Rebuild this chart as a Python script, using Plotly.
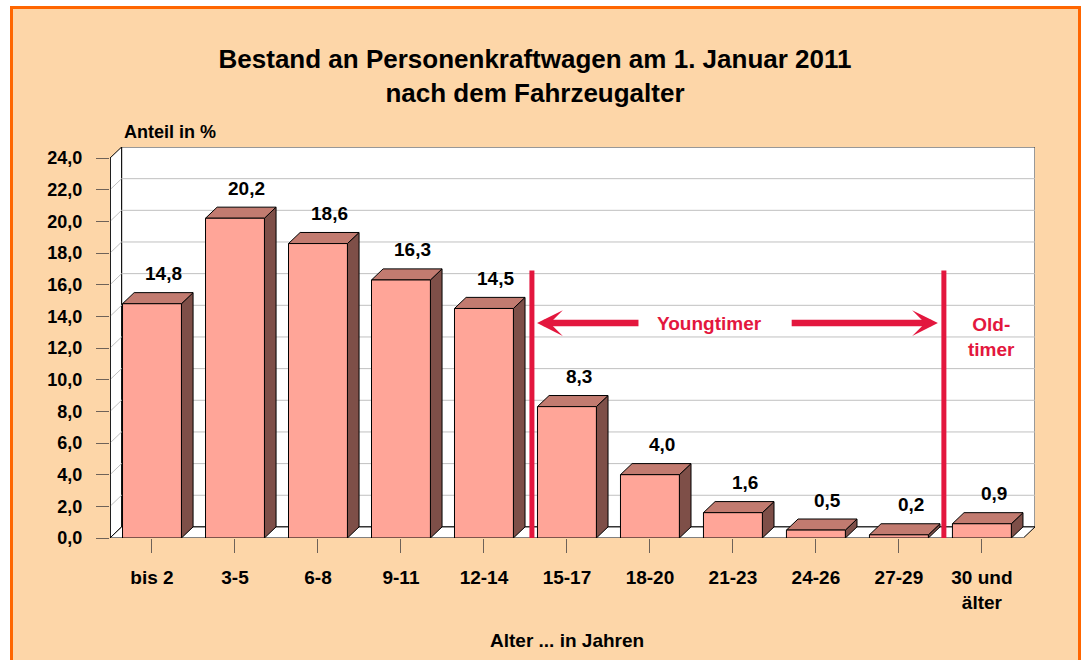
import plotly.graph_objects as go

# ---------------- data ----------------
categories = ["bis 2", "3-5", "6-8", "9-11", "12-14", "15-17", "18-20",
              "21-23", "24-26", "27-29", "30 und<br>älter"]
values = [14.8, 20.2, 18.6, 16.3, 14.5, 8.3, 4.0, 1.6, 0.5, 0.2, 0.9]
y_ticks = [0, 2, 4, 6, 8, 10, 12, 14, 16, 18, 20, 22, 24]

title_text = "Bestand an Personenkraftwagen am 1. Januar 2011<br>nach dem Fahrzeugalter"
y_title = "Anteil in %"
x_title = "Alter ... in Jahren"

# ---------------- styling / geometry ----------------
FONT = "Arial, Liberation Sans, sans-serif"
RED = "#E3173E"
FRONT = "#FFA598"
TOP = "#C27B70"
SIDE = "#7E4F48"
PEACH = "#FDD6A8"
W = 0.71      # bar width (category units)
DX = 0.14     # depth offset x (category units)
DY = 0.70     # depth offset y (value units)
XA = -0.506   # front-left corner of the floor
XE = 10.50    # front-right corner of the floor
YMAX = 24

def fmt(v):
    return f"{v:.1f}".replace(".", ",")

fig = go.Figure()

# ---------------- bars (3D look) ----------------
fx, fy, tx, ty, sx, sy = [], [], [], [], [], []
for i, v in enumerate(values):
    l, r = i - W / 2, i + W / 2
    fx += [l, r, r, l, l, None]
    fy += [0, 0, v, v, 0, None]
    tx += [l, r, r + DX, l + DX, l, None]
    ty += [v, v, v + DY, v + DY, v, None]
    sx += [r, r + DX, r + DX, r, r, None]
    sy += [0, DY, v + DY, v, 0, None]

for xs, ys, col in [(sx, sy, SIDE), (tx, ty, TOP), (fx, fy, FRONT)]:
    fig.add_trace(go.Scatter(x=xs, y=ys, mode="lines", fill="toself",
                             fillcolor=col, line=dict(color="#000000", width=1),
                             hoverinfo="skip", showlegend=False))

# ---------------- walls / floor ----------------
shapes = []
shapes.append(dict(type="rect", xref="x", yref="y", x0=XA + DX, x1=XE + DX,
                   y0=DY, y1=YMAX + DY, fillcolor="white",
                   line=dict(color="#333333", width=1), layer="below"))
shapes.append(dict(type="path", xref="x", yref="y",
                   path=f"M{XA},0 L{XA},{YMAX} L{XA+DX},{YMAX+DY} L{XA+DX},{DY} Z",
                   fillcolor="white", line=dict(color="#000000", width=1), layer="below"))
for t in y_ticks[1:-1]:
    shapes.append(dict(type="line", xref="x", yref="y", x0=XA + DX, x1=XE + DX,
                       y0=t + DY, y1=t + DY, line=dict(color="#C0C0C0", width=1),
                       layer="below"))
    shapes.append(dict(type="line", xref="x", yref="y", x0=XA, x1=XA + DX,
                       y0=t, y1=t + DY, line=dict(color="#C0C0C0", width=1),
                       layer="below"))
shapes.append(dict(type="path", xref="x", yref="y",
                   path=f"M{XA},0 L{XE},0 L{XE+DX},{DY} L{XA+DX},{DY} Z",
                   fillcolor="white", line=dict(color="#000000", width=1), layer="below"))
shapes.append(dict(type="line", xref="x", yref="y", x0=XA, x1=XA, y0=0, y1=YMAX,
                   line=dict(color="#000000", width=1.5), layer="below"))
for xv in [4.578, 9.542]:
    shapes.append(dict(type="line", xref="x", yref="y", x0=xv, x1=xv, y0=-0.15, y1=16.9,
                       line=dict(color=RED, width=5), layer="above"))

PL, PR, PT, PB = 110, 1035, 147, 538   # plot-area pixel bounds
def px_x(p):
    return (p - PL) / float(PR - PL)
def px_y(p):
    return (PB - p) / float(PB - PT)
shapes.insert(0, dict(type="rect", xref="paper", yref="paper",
                      x0=px_x(11.5), x1=px_x(1079.5), y0=px_y(680), y1=px_y(7.5),
                      fillcolor=PEACH, line=dict(color="#FF6600", width=3), layer="below"))

# ---------------- annotations ----------------
ann = []
for i, v in enumerate(values):
    ann.append(dict(x=i + DX, y=v + DY, xref="x", yref="y", text=fmt(v),
                    showarrow=False, yanchor="middle", yshift=19,
                    font=dict(family=FONT, size=19, color="black", weight="bold")))
ann.append(dict(x=6.72, y=13.58, xref="x", yref="y", text="Youngtimer", showarrow=False,
                font=dict(family=FONT, size=19, color=RED, weight="bold")))
ann.append(dict(x=10.12, y=12.7, xref="x", yref="y", text="Old-<br>timer", showarrow=False,
                font=dict(family=FONT, size=19, color=RED, weight="bold")))
for tip, tail in [(4.64, 5.88), (9.47, 7.69)]:
    ann.append(dict(x=tip, y=13.58, ax=tail, ay=13.58, xref="x", yref="y",
                    axref="x", ayref="y", text="", showarrow=True, arrowhead=3,
                    arrowsize=0.66, arrowwidth=6.5, arrowcolor=RED))
ann.append(dict(x=px_x(122), y=px_y(132), xref="paper", yref="paper", text=y_title,
                showarrow=False, xanchor="left", yanchor="middle",
                font=dict(family=FONT, size=18, color="black", weight="bold")))
ann.append(dict(x=px_x(566.5), y=px_y(640), xref="paper", yref="paper", text=x_title,
                showarrow=False, xanchor="center", yanchor="middle",
                font=dict(family=FONT, size=19, color="black", weight="bold")))

fig.update_layout(
    width=1084, height=660, autosize=False,
    margin=dict(l=PL, r=1084 - PR, t=PT, b=660 - PB),
    paper_bgcolor="white", plot_bgcolor="rgba(0,0,0,0)",
    separators=",.",
    title=dict(text=title_text, x=535 / 1084, xref="container", xanchor="center",
               y=1 - 68 / 660, yref="container", yanchor="middle",
               font=dict(family=FONT, size=26, color="black", weight="bold")),
    shapes=shapes, annotations=ann, showlegend=False,
    xaxis=dict(range=[XA, XE + DX], tickvals=list(range(len(categories))),
               ticktext=categories, ticks="outside", ticklen=14, tickcolor="#6E6258",
               tickwidth=1.2, showgrid=False, zeroline=False, showline=False,
               ticklabelstandoff=8,
               tickfont=dict(family=FONT, size=19, color="black", weight="bold")),
    yaxis=dict(range=[0, YMAX + DY], tickvals=y_ticks, tickformat=".1f",
               ticks="outside", ticklen=13, tickcolor="#6E6258", tickwidth=1.2,
               showgrid=False, zeroline=False, showline=False, ticklabelstandoff=10,
               tickfont=dict(family=FONT, size=18, color="black", weight="bold")),
)

fig.write_html("out.html", config={"displayModeBar": False},
               post_script="document.body.style.margin='0';")
